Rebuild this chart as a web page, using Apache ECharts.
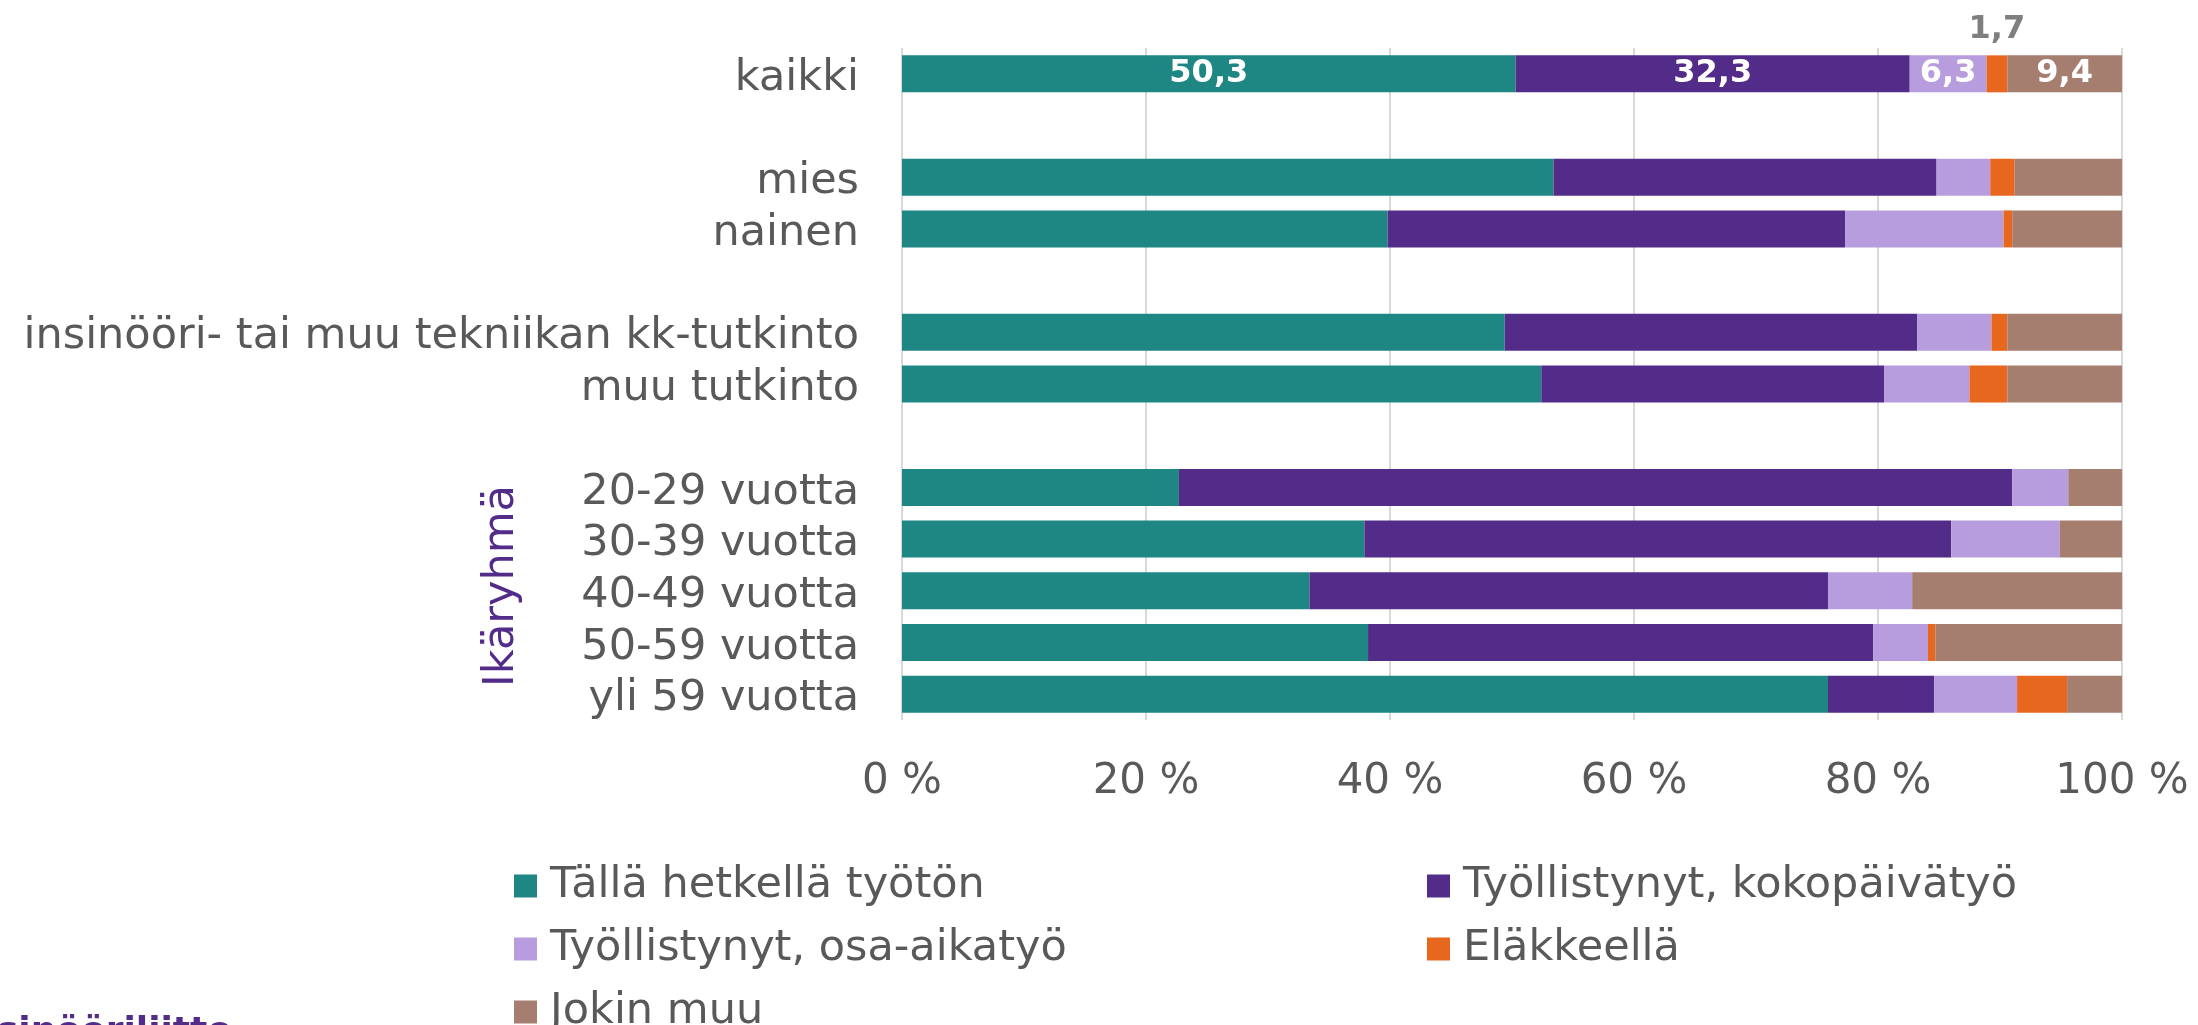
<!DOCTYPE html>
<html>
<head>
<meta charset="utf-8">
<script src="https://cdn.jsdelivr.net/npm/echarts@6/dist/echarts.min.js"></script>
<style>
  html, body { margin: 0; padding: 0; background: #fff; }
  #box { width: 2198px; height: 1025px; }
</style>
</head>
<body>
<div id="box"></div>
<script>
// rivit ylhäältä alas, tyhjät välit ryhmien välissä
let categories = ['kaikki', '', 'mies', 'nainen', ' ',
    'insinööri- tai muu tekniikan kk-tutkinto', 'muu tutkinto', '  ',
    '20-29 vuotta', '30-39 vuotta', '40-49 vuotta', '50-59 vuotta', 'yli 59 vuotta'];
let seriesNames = ['Tällä hetkellä työtön', 'Työllistynyt, kokopäivätyö',
    'Työllistynyt, osa-aikatyö', 'Eläkkeellä', 'Jokin muu'];
let tyoton   = [50.3, null, 53.4, 39.8, null, 49.4, 52.4, null, 22.7, 37.9, 33.4, 38.2, 75.9];
let kokopv   = [32.3, null, 31.4, 37.5, null, 33.8, 28.1, null, 68.3, 48.1, 42.5, 41.4, 8.7];
let osaaika  = [6.3, null, 4.4, 13.0, null, 6.1, 7.0, null, 4.6, 8.9, 6.9, 4.5, 6.8];
let elakkeella = [1.7, null, 2.0, 0.7, null, 1.3, 3.1, null, 0, 0, 0, 0.6, 4.1];
let muu      = [9.4, null, 8.8, 9.0, null, 9.4, 9.4, null, 4.4, 5.1, 17.2, 15.3, 4.5];
let xTicks = [0, 20, 40, 60, 80, 100];

let colors = ['#1F8783', '#532C8A', '#B79DDE', '#E8671F', '#A57E6F'];
let values = [tyoton, kokopv, osaaika, elakkeella, muu];
let font = 'DejaVu Sans';

window.addEventListener('load', function () {
    let box = document.querySelector('#box');
    let mychart = echarts.init(box);

    let series = [];
    for (let i = 0; i < seriesNames.length; i++) {
        let isOrange = i == 3;
        series.push({
            name: seriesNames[i],
            type: 'bar',
            stack: 'all',
            barWidth: 37,
            itemStyle: { color: colors[i] },
            label: {
                show: true,
                position: isOrange ? 'top' : 'inside',
                distance: 10,
                color: isOrange ? '#7F7F7F' : '#fff',
                fontFamily: font,
                fontWeight: 'bold',
                fontSize: 32,
                formatter: function (p) {
                    // vain kaikki-rivillä arvot näkyvissä
                    if (p.dataIndex != 0) return '';
                    return String(p.value).replace('.', ',');
                }
            },
            data: values[i]
        });
    }

    let legendPos = [
        { left: 514, top: 863 },
        { left: 1427, top: 863 },
        { left: 514, top: 926 },
        { left: 1427, top: 926 },
        { left: 514, top: 989 }
    ];
    let legends = seriesNames.map(function (name, i) {
        return {
            data: [name],
            left: legendPos[i].left,
            top: legendPos[i].top,
            padding: 0,
            icon: 'rect',
            itemWidth: 23,
            itemHeight: 23,
            itemGap: 0,
            textStyle: { fontFamily: font, fontSize: 43, color: '#595959', lineHeight: 46, padding: [0, 0, 0, 8] }
        };
    });

    let options = {
        backgroundColor: '#fff',
        animation: false,
        grid: { left: 902, right: 76, top: 48, bottom: 305 },
        xAxis: {
            type: 'value',
            min: xTicks[0],
            max: xTicks[xTicks.length - 1],
            interval: 20,
            axisLine: { show: false },
            axisTick: { show: false },
            splitLine: { lineStyle: { color: '#D9D9D9', width: 2 } },
            axisLabel: {
                margin: 41,
                fontFamily: font,
                fontSize: 42,
                color: '#595959',
                formatter: '{value} %'
            }
        },
        yAxis: {
            type: 'category',
            inverse: true,
            data: categories,
            axisLine: { show: false },
            axisTick: { show: false },
            axisLabel: {
                interval: 0,
                margin: 43,
                formatter: function (v) { return '{a|' + v + '}'; },
                rich: {
                    a: {
                        fontFamily: font,
                        fontSize: 43,
                        color: '#595959',
                        padding: [10, 0, 0, 0]
                    }
                }
            }
        },
        legend: legends,
        graphic: [
            {
                type: 'text',
                x: 502,
                y: 586,
                rotation: Math.PI / 2,
                style: {
                    text: 'Ikäryhmä',
                    fontFamily: font,
                    fontSize: 43,
                    fill: '#532C8A',
                    align: 'center',
                    verticalAlign: 'middle'
                }
            },
            {
                type: 'text',
                x: 232,
                y: 1015,
                style: {
                    text: 'insinööriliitto',
                    fontFamily: font,
                    fontWeight: 'bold',
                    fontSize: 36,
                    fill: '#532C8A',
                    align: 'right',
                    verticalAlign: 'top'
                }
            }
        ],
        series: series
    };

    mychart.setOption(options);
});
</script>
</body>
</html>
